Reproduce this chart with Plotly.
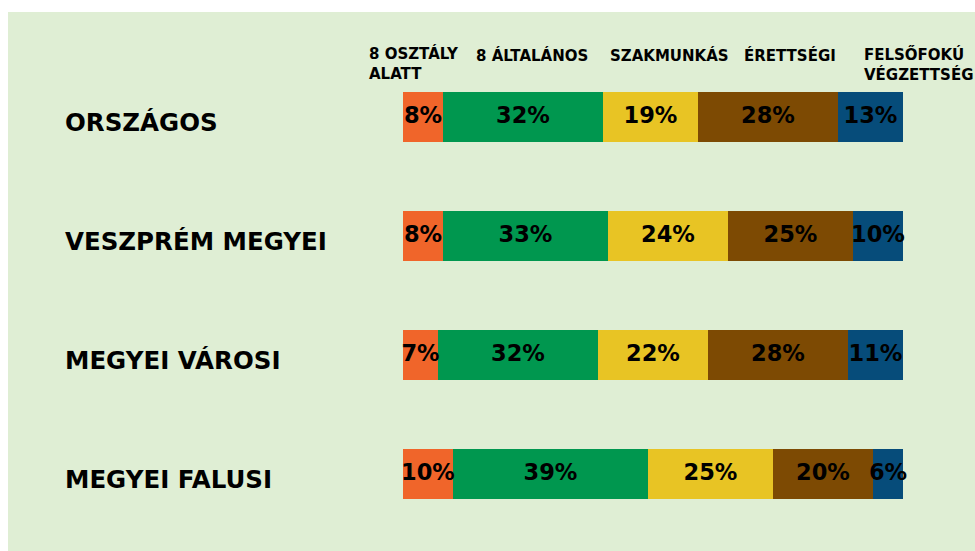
import plotly.graph_objects as go

categories = ["ORSZÁGOS", "VESZPRÉM MEGYEI", "MEGYEI VÁROSI", "MEGYEI FALUSI"]
series_names = ["8 OSZTÁLY<br>ALATT", "8 ÁLTALÁNOS", "SZAKMUNKÁS", "ÉRETTSÉGI", "FELSŐFOKÚ<br>VÉGZETTSÉG"]
values_8_alatt = [8, 8, 7, 10]
values_8_altalanos = [32, 33, 32, 39]
values_szakmunkas = [19, 24, 22, 25]
values_erettsegi = [28, 25, 28, 20]
values_felsofoku = [13, 10, 11, 6]

colors = ["#F0652A", "#00974F", "#E8C424", "#7D4A03", "#064C7A"]
series = [values_8_alatt, values_8_altalanos, values_szakmunkas, values_erettsegi, values_felsofoku]

W, H = 975, 551
px_per_unit_x = 5.0
x0_px = 403
xmin = -x0_px / px_per_unit_x
xmax = xmin + W / px_per_unit_x
cat_px = 119.0
first_center_px = 117.0
ytop = -first_center_px / cat_px
ybot = ytop + H / cat_px
bar_w = 50.0 / cat_px

bold_font = "DejaVu Sans"
fig = go.Figure()

for name, vals, col in zip(series_names, series, colors):
    fig.add_trace(go.Bar(
        y=categories, x=vals, orientation="h", name=name.replace("<br>", " "),
        marker=dict(color=col, line=dict(width=0)), width=bar_w,
        hoverinfo="x+y", showlegend=False,
    ))

# value labels at segment centres
for i, cat in enumerate(categories):
    cum = 0
    for vals in series:
        v = vals[i]
        fig.add_trace(go.Scatter(
            x=[cum + v / 2], y=[cat], mode="text",
            text=[f"<b>{v}%</b>"],
            textfont=dict(family=bold_font, size=22.5, color="#000000"),
            showlegend=False, hoverinfo="skip",
        ))
        cum += v

annotations = []
for cat in categories:
    annotations.append(dict(
        x=63 / W, xref="paper", y=cat, yref="y", xanchor="left", yanchor="middle",
        text=f"<b>{cat}</b>", showarrow=False, yshift=-5,
        font=dict(family=bold_font, size=24.5, color="#000000"),
    ))

header_x_px = [367, 474, 608, 742, 862]
for name, hx in zip(series_names, header_x_px):
    two_lines = "<br>" in name
    cy = 64 if two_lines else 56
    annotations.append(dict(
        x=hx / W, xref="paper",
        y=1 - cy / H, yref="paper",
        xanchor="left", yanchor="middle", align="left",
        text="<br>".join(f"<b>{ln}</b>" for ln in name.split("<br>")),
        showarrow=False,
        font=dict(family=bold_font, size=15, color="#000000"),
    ))

fig.update_layout(
    width=W, height=H,
    barmode="stack",
    margin=dict(l=0, r=0, t=0, b=0),
    paper_bgcolor="#DFEED4",
    plot_bgcolor="rgba(0,0,0,0)",
    xaxis=dict(range=[xmin, xmax], visible=False, fixedrange=True),
    yaxis=dict(range=[ybot, ytop], visible=False, type="category", fixedrange=True),
    shapes=[
        dict(type="rect", xref="paper", yref="paper", x0=0, x1=1, y0=1 - 12 / H, y1=1,
             fillcolor="#FFFFFF", line=dict(width=0), layer="below"),
        dict(type="rect", xref="paper", yref="paper", x0=0, x1=8 / W, y0=0, y1=1,
             fillcolor="#FFFFFF", line=dict(width=0), layer="below"),
    ],
    annotations=annotations,
    showlegend=False,
)

fig.write_html(
    "out.html",
    config={"displayModeBar": False},
    post_script="document.body.style.margin='0px';document.body.style.overflow='hidden';",
)
